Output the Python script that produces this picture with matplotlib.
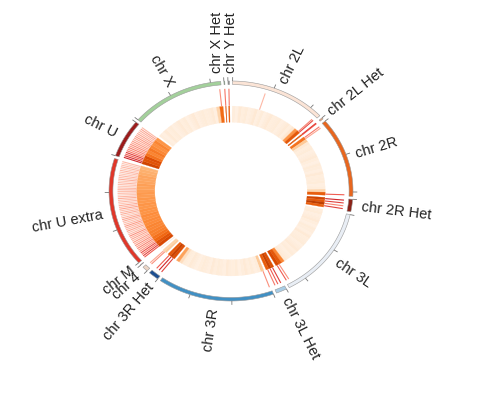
import numpy as np
import matplotlib
matplotlib.use('Agg')
import matplotlib.pyplot as plt
from matplotlib.collections import PolyCollection, LineCollection

# chromosomes, clockwise from the top (sizes in Mb)
chroms = ['chr 2L', 'chr 2L Het', 'chr 2R', 'chr 2R Het', 'chr 3L', 'chr 3L Het',
          'chr 3R', 'chr 3R Het', 'chr 4', 'chr M', 'chr U extra', 'chr U',
          'chr X', 'chr X Het', 'chr Y Het']
sizes_mb = [23.01, 0.37, 21.15, 3.29, 24.54, 2.56, 27.91, 2.52, 1.35, 0.02,
            29.00, 10.05, 22.42, 0.20, 0.35]

# inner heatmap ring (0..1), evenly binned along each chromosome
heat_2L = [0.10, 0.07, 0.12, 0.09, 0.11, 0.08, 0.10, 0.13, 0.08, 0.11, 0.07, 0.10,
           0.12, 0.09, 0.10, 0.11, 0.08, 0.10, 0.12, 0.09, 0.15, 0.50, 0.72]
heat_2LHet = [0.80, 0.70]
heat_2R = [0.62, 0.30, 0.12, 0.09, 0.11, 0.08, 0.10, 0.12, 0.09, 0.07, 0.11, 0.10,
           0.08, 0.12, 0.09, 0.10, 0.11, 0.08, 0.10, 0.25, 0.70]
heat_2RHet = [0.80, 0.72, 0.85, 0.70]
heat_3L = [0.09, 0.11, 0.08, 0.10, 0.12, 0.09, 0.07, 0.11, 0.10, 0.08, 0.12, 0.09,
           0.10, 0.11, 0.08, 0.10, 0.12, 0.09, 0.11, 0.08, 0.10, 0.12, 0.55, 0.72, 0.78]
heat_3LHet = [0.75, 0.82, 0.70]
heat_3R = [0.30, 0.10, 0.08, 0.11, 0.09, 0.12, 0.10, 0.07, 0.11, 0.09, 0.10, 0.12,
           0.08, 0.10, 0.11, 0.09, 0.12, 0.08, 0.10, 0.11, 0.09, 0.07, 0.10, 0.12,
           0.09, 0.11, 0.20, 0.45]
heat_3RHet = [0.75, 0.82, 0.72]
heat_4 = [0.30, 0.26]
heat_M = [0.10]
heat_Uextra = [0.78, 0.74, 0.66, 0.62, 0.58, 0.57, 0.55, 0.56, 0.53, 0.54, 0.52, 0.53,
               0.50, 0.51, 0.49, 0.50, 0.48, 0.49, 0.47, 0.48, 0.46, 0.45, 0.46, 0.44,
               0.43, 0.44, 0.41, 0.40, 0.38]
heat_U = [0.80, 0.74, 0.76, 0.62, 0.56, 0.60, 0.55, 0.52, 0.56, 0.50]
heat_X = [0.10, 0.08, 0.12, 0.09, 0.11, 0.08, 0.10, 0.12, 0.09, 0.11, 0.07, 0.10,
          0.12, 0.08, 0.10, 0.11, 0.09, 0.10, 0.12, 0.08, 0.25, 0.65]
heat_XHet = [0.75]
heat_YHet = [0.70]

# red line track: (position in Mb, strength)
lines_2L = [(8.4, 0.30), (22.4, 0.55), (22.8, 0.75)]
lines_2LHet = [(0.10, 0.80), (0.28, 0.70)]
lines_2R = [(0.3, 0.60), (0.8, 0.40), (20.8, 0.70)]
lines_2RHet = [(0.4, 0.90), (1.2, 0.80), (2.0, 0.55), (2.8, 0.80)]
lines_3L = [(23.5, 0.50), (24.2, 0.70)]
lines_3LHet = [(0.5, 0.80), (1.3, 0.70), (2.1, 0.60)]
lines_3R = [(0.3, 0.50)]
lines_3RHet = [(0.4, 0.80), (1.2, 0.90), (2.0, 0.70)]
lines_4 = [(0.5, 0.50), (1.0, 0.40)]
lines_M = []
lines_X = [(22.0, 0.50)]
lines_XHet = [(0.1, 0.60)]
lines_YHet = [(0.2, 0.60)]
# dense tracks, evenly spaced along the chromosome
dense_Uextra = [0.70, 0.80, 0.60, 0.75, 0.50, 0.45, 0.55, 0.40, 0.50, 0.35, 0.45, 0.30,
                0.40, 0.35, 0.50, 0.30, 0.25, 0.40, 0.30, 0.35, 0.45, 0.30, 0.25, 0.35,
                0.40, 0.30, 0.20, 0.35, 0.30, 0.25, 0.40, 0.30, 0.35, 0.20, 0.30, 0.25,
                0.35, 0.30, 0.20, 0.30, 0.25, 0.35, 0.30, 0.20, 0.25, 0.30, 0.20, 0.35,
                0.25, 0.30, 0.20, 0.25, 0.30, 0.20, 0.30, 0.25, 0.20, 0.30]
dense_U = [0.90, 0.85, 0.70, 0.80, 0.60, 0.50, 0.55, 0.45, 0.50, 0.40,
           0.45, 0.35, 0.40, 0.45, 0.35, 0.40, 0.30, 0.35, 0.40, 0.30]

band_colors = ['#fbe4d6', '#f2a170', '#e8661e', '#8b2318', '#e9eef5', '#a9cde6',
               '#4190c4', '#1d4f91', '#ecd6c6', '#bbbbbb', '#e0372a', '#9c1c1c',
               '#a3d09b', '#4d9a4d', '#888888']

heats = [heat_2L, heat_2LHet, heat_2R, heat_2RHet, heat_3L, heat_3LHet, heat_3R,
         heat_3RHet, heat_4, heat_M, heat_Uextra, heat_U, heat_X, heat_XHet, heat_YHet]
sparse = [lines_2L, lines_2LHet, lines_2R, lines_2RHet, lines_3L, lines_3LHet, lines_3R,
          lines_3RHet, lines_4, lines_M, None, None, lines_X, lines_XHet, lines_YHet]
dense = {'chr U extra': dense_Uextra, 'chr U': dense_U}

plt.rcParams['font.family'] = ['Liberation Sans', 'DejaVu Sans']

GAP = 1.5
SCALE = (360.0 - GAP * len(chroms)) / sum(sizes_mb)
PX_X, PX_Y = 122.0, 110.0   # pixels per unit radius (the plot is stretched)
CX, CY = 231.0, 203.0       # centre in pixels from bottom-left

R_BAND = (0.968, 1.0)
R_LINES = (0.775, 0.93)
R_HEAT = (0.625, 0.772)


def arc_poly(t1, t2, r1, r2):
    n = max(2, int(abs(t2 - t1) / 0.5) + 2)
    t = np.radians(np.linspace(t1, t2, n))
    outer = np.column_stack([r2 * np.sin(t), r2 * np.cos(t)])
    inner = np.column_stack([r1 * np.sin(t[::-1]), r1 * np.cos(t[::-1])])
    return np.vstack([outer, inner])


def radial(t, r1, r2):
    a = np.radians(t)
    return [(r1 * np.sin(a), r1 * np.cos(a)), (r2 * np.sin(a), r2 * np.cos(a))]


fig = plt.figure(figsize=(5.0, 3.94), dpi=100)
ax = fig.add_axes([0, 0, 1, 1])
ax.set_xlim(-CX / PX_X, (500 - CX) / PX_X)
ax.set_ylim(-CY / PX_Y, (394 - CY) / PX_Y)
ax.axis('off')

oranges = plt.get_cmap('Oranges')
reds = plt.get_cmap('Reds')

band_polys, heat_polys, heat_cols = [], [], []
tick_segs, line_segs, line_cols = [], [], []
label_nudge = {'chr X Het': -3.0, 'chr Y Het': 1.0, 'chr 3R Het': -2.0, 'chr M': 0.8}
label_rot = {'chr X Het': 90, 'chr Y Het': 90}

start = GAP / 2
for name, size, heat, sp, col in zip(chroms, sizes_mb, heats, sparse, band_colors):
    t0, t1 = start, start + size * SCALE
    band_polys.append(arc_poly(t0, max(t1, t0 + 0.25), *R_BAND))

    edges = np.linspace(t0, t1, len(heat) + 1)
    for a, b, v in zip(edges[:-1], edges[1:], heat):
        heat_polys.append(arc_poly(a, max(b, a + 0.3), *R_HEAT))
        heat_cols.append(oranges(max(v - 0.03, 0.0)))

    if name in dense:
        vals = dense[name]
        pts = [((i + 0.5) / len(vals) * size, v) for i, v in enumerate(vals)]
    else:
        pts = sp
    for pos, v in pts:
        line_segs.append(radial(t0 + pos * SCALE, *R_LINES))
        c = list(reds(0.25 + 0.55 * v))
        c[3] = 0.4 + 0.6 * v
        line_cols.append(c)

    for mb in np.arange(0, size, 10):
        tick_segs.append(radial(t0 + mb * SCALE, 1.0, 1.035))

    # label, radial orientation in display space
    tm = (t0 + t1) / 2 + label_nudge.get(name, 0.0)
    a = np.radians(tm)
    rot = np.degrees(np.arctan2(np.cos(a) * PX_Y, np.sin(a) * PX_X))
    flip = 180 < tm < 350
    if flip:
        rot -= 180
    rot = label_rot.get(name, rot)
    ax.text(1.075 * np.sin(a), 1.075 * np.cos(a), name, rotation=rot,
            rotation_mode='anchor', ha='right' if flip else 'left', va='center',
            fontsize=10.5, color='#222222')
    start = t1 + GAP

ax.add_collection(PolyCollection(heat_polys, facecolors=heat_cols, edgecolors=heat_cols,
                                 linewidths=0.2))
ax.add_collection(LineCollection(line_segs, colors=line_cols, linewidths=0.8))
ax.add_collection(PolyCollection(band_polys, facecolors=band_colors, edgecolors='#9a9a9a',
                                 linewidths=0.4))
ax.add_collection(LineCollection(tick_segs, colors='#777777', linewidths=0.6))

fig.savefig('out.png', dpi=100)
